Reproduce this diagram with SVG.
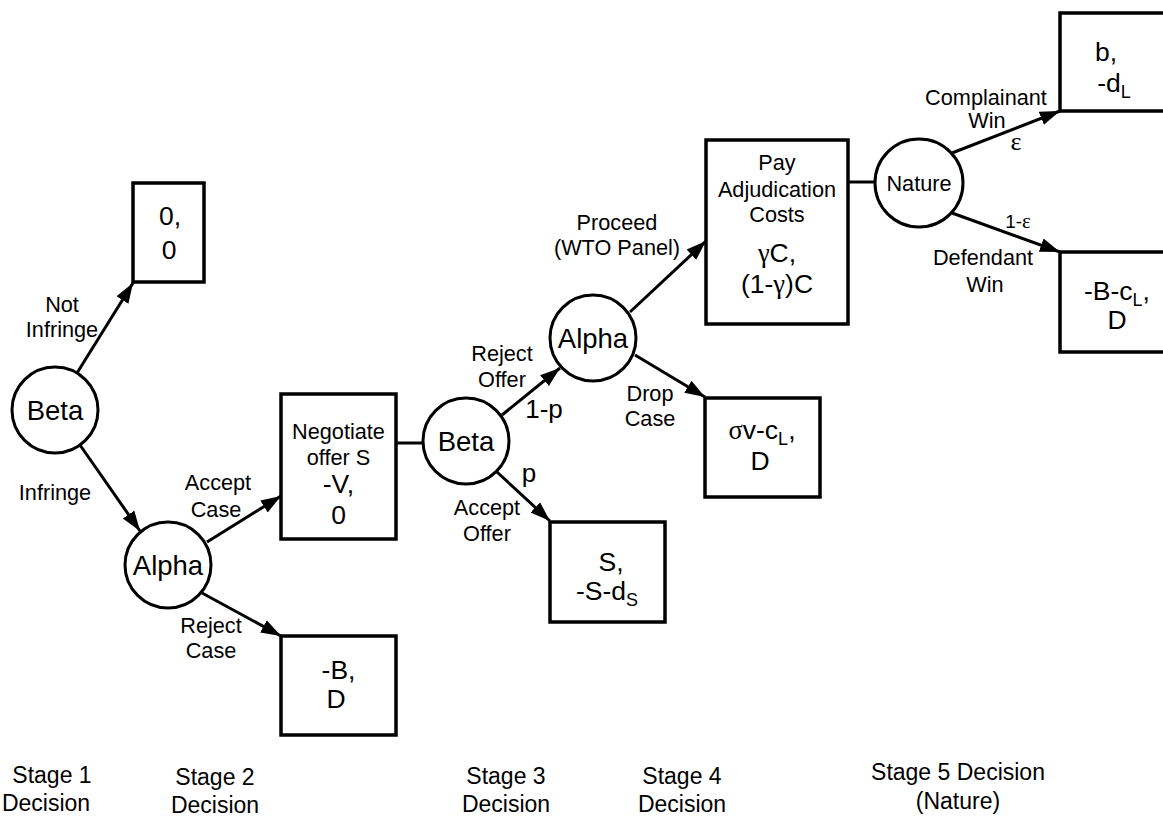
<svg xmlns="http://www.w3.org/2000/svg" width="1163" height="818" viewBox="0 0 1163 818">
<defs>
<marker id="arr" markerUnits="userSpaceOnUse" markerWidth="22" markerHeight="16" refX="20" refY="8" orient="auto"><path d="M0,1 L20,8 L0,15 z" fill="#000"/></marker>
<style>
text{font-family:"Liberation Sans",Arial,sans-serif;fill:#000;text-anchor:middle}
.node{fill:#fff;stroke:#000;stroke-width:3}
.box{fill:#fff;stroke:#000;stroke-width:3.5}
.nm{font-size:27.5px}
.pay{font-size:26.5px}
.hd{font-size:21.7px}
.lb{font-size:21.7px}
.st{font-size:23px}
.sym{font-family:"Liberation Serif","DejaVu Serif",serif}
.edge{stroke:#000;stroke-width:3;fill:none}
.arrow{marker-end:url(#arr)}
</style>
</defs>
<rect width="1163" height="818" fill="#fff"/>
<g id="connectors">
<line class="edge arrow" x1="77" y1="373" x2="133" y2="283"/>
<line class="edge arrow" x1="80" y1="445" x2="140" y2="531"/>
<line class="edge arrow" x1="207" y1="542" x2="281" y2="496"/>
<line class="edge arrow" x1="202" y1="593" x2="281" y2="636"/>
<line class="edge" x1="396" y1="443" x2="423" y2="443"/>
<line class="edge arrow" x1="502" y1="415" x2="560" y2="368"/>
<line class="edge arrow" x1="497" y1="472" x2="550" y2="521"/>
<line class="edge arrow" x1="630" y1="312" x2="706" y2="241"/>
<line class="edge arrow" x1="635" y1="355" x2="705" y2="397"/>
<line class="edge" x1="848" y1="182" x2="875" y2="182"/>
<line class="edge arrow" x1="952" y1="153" x2="1060" y2="111"/>
<line class="edge arrow" x1="952" y1="213" x2="1060" y2="252"/>
</g>
<g id="edge-labels">
<text class="lb" x="62" y="312">Not</text>
<text class="lb" x="62" y="337">Infringe</text>
<text class="lb" x="55" y="500">Infringe</text>
<text class="lb" x="218" y="490">Accept</text>
<text class="lb" x="216" y="517">Case</text>
<text class="lb" x="211" y="633">Reject</text>
<text class="lb" x="211" y="658">Case</text>
<text class="lb" x="502" y="361">Reject</text>
<text class="lb" x="502" y="387">Offer</text>
<text x="544" y="418" style="font-size:26px">1-p</text>
<text x="529" y="482" style="font-size:26px">p</text>
<text class="lb" x="487" y="515">Accept</text>
<text class="lb" x="487" y="541">Offer</text>
<text class="lb" x="650" y="401">Drop</text>
<text class="lb" x="650" y="426">Case</text>
<text class="lb" x="617" y="230">Proceed</text>
<text class="lb" x="617" y="255">(WTO Panel)</text>
<text class="lb" x="986" y="105">Complainant</text>
<text class="lb" x="987" y="128">Win</text>
<text class="sym" x="1016" y="150" style="font-size:26px">ε</text>
<text x="1018" y="228" style="font-size:19px">1-<tspan class="sym" style="font-size:21px">ε</tspan></text>
<text class="lb" x="983" y="265">Defendant</text>
<text class="lb" x="985" y="292">Win</text>
</g>
<g id="beta1"><circle class="node" cx="55" cy="410" r="43"/><text class="nm" x="55" y="420">Beta</text></g>
<g id="payoff-0-0"><rect class="box" x="133" y="183" width="71" height="99"/><text class="pay" x="170" y="225">0,</text><text class="pay" x="169" y="259">0</text></g>
<g id="alpha1"><circle class="node" cx="168" cy="565" r="43"/><text class="nm" x="168" y="575">Alpha</text></g>
<g id="negotiate"><rect class="box" x="281" y="394" width="115" height="145"/><text class="hd" x="338.5" y="439">Negotiate</text><text class="hd" x="338.5" y="465">offer S</text><text class="pay" x="338.5" y="493">-V,</text><text class="pay" x="338.5" y="524">0</text></g>
<g id="payoff-reject-case"><rect class="box" x="281" y="636" width="115" height="99"/><text class="pay" x="338.5" y="679">-B,</text><text class="pay" x="336" y="708">D</text></g>
<g id="beta2"><circle class="node" cx="466" cy="441" r="43"/><text class="nm" x="466" y="451">Beta</text></g>
<g id="payoff-accept-offer"><rect class="box" x="550" y="522" width="115" height="100"/><text class="pay" x="611" y="571">S,</text><text class="pay" x="607" y="600">-S-d<tspan style="font-size:18px" dy="6">S</tspan></text></g>
<g id="alpha2"><circle class="node" cx="593" cy="338" r="43"/><text class="nm" x="593" y="348">Alpha</text></g>
<g id="payoff-drop-case"><rect class="box" x="705" y="398" width="115" height="99"/><text class="pay" x="762" y="439"><tspan class="sym">σ</tspan>v-c<tspan style="font-size:18px" dy="6">L</tspan><tspan dy="-6">,</tspan></text><text class="pay" x="760" y="470">D</text></g>
<g id="adjudication"><rect class="box" x="706" y="140" width="142" height="184"/><text class="hd" x="777" y="170">Pay</text><text class="hd" x="777" y="197">Adjudication</text><text class="hd" x="777" y="222">Costs</text><text class="pay" x="777" y="262"><tspan class="sym">γ</tspan>C,</text><text class="pay" x="777" y="293">(1-<tspan class="sym">γ</tspan>)C</text></g>
<g id="nature"><circle class="node" cx="919" cy="183" r="44"/><text class="lb" x="919" y="191">Nature</text></g>
<g id="payoff-complainant"><rect class="box" x="1060" y="13" width="112" height="98"/><text class="pay" x="1106" y="61">b,</text><text class="pay" x="1114" y="92">-d<tspan style="font-size:18px" dy="6">L</tspan></text></g>
<g id="payoff-defendant"><rect class="box" x="1060" y="252" width="112" height="100"/><text class="pay" x="1117" y="300">-B-c<tspan style="font-size:18px" dy="6">L</tspan><tspan dy="-6">,</tspan></text><text class="pay" x="1117" y="329">D</text></g>
<g id="stages">
<text class="st" x="52" y="783">Stage 1</text>
<text class="st" x="46" y="811">Decision</text>
<text class="st" x="215" y="785">Stage 2</text>
<text class="st" x="215" y="813">Decision</text>
<text class="st" x="506" y="784">Stage 3</text>
<text class="st" x="506" y="812">Decision</text>
<text class="st" x="682" y="784">Stage 4</text>
<text class="st" x="682" y="812">Decision</text>
<text class="st" x="958" y="780">Stage 5 Decision</text>
<text class="st" x="958" y="809">(Nature)</text>
</g>
</svg>
